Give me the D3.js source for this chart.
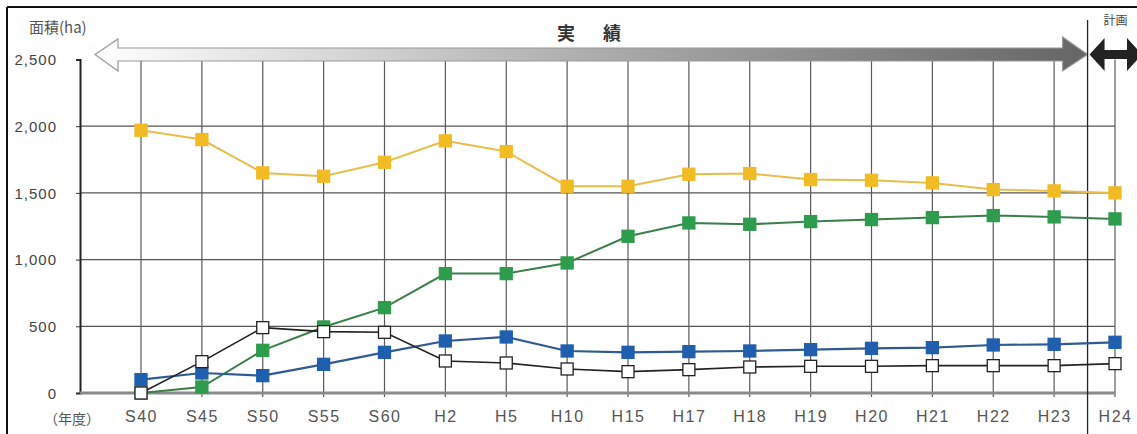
<!DOCTYPE html>
<html>
<head>
<meta charset="utf-8">
<script src="https://cdn.jsdelivr.net/npm/d3@7"></script>
<style>
  html, body { margin: 0; padding: 0; background: #fff; }
  svg { display: block; }
</style>
</head>
<body>
<svg id="chart" width="1137" height="434"></svg>
<script>
// Fiscal years (Showa / Heisei)
const years = ["S40","S45","S50","S55","S60","H2","H5","H10","H15","H17","H18","H19","H20","H21","H22","H23","H24"];

// Area (ha) per series
const seriesYellow = [1970,1900,1650,1625,1730,1890,1810,1550,1550,1640,1645,1600,1595,1575,1525,1515,1500];
const seriesGreen  = [0,45,320,495,640,895,895,975,1175,1275,1265,1285,1300,1315,1330,1320,1305];
const seriesBlue   = [100,150,130,215,305,390,420,315,305,310,315,325,335,340,360,365,380];
const seriesWhite  = [0,235,490,460,455,240,225,180,160,175,195,200,200,205,205,205,220];

const yTicks = [0,500,1000,1500,2000,2500];

const svg = d3.select("#chart");
const W = 1137, H = 434;

const plotLeft = 80, plotRight = 1115;
const x = d3.scalePoint().domain(years).range([141, plotRight]);
const y = d3.scaleLinear().domain([0, 2500]).range([393, 59.5]);

const numFont = "'Liberation Sans', Arial, sans-serif";
const jpFont = "'Noto Sans CJK JP', 'Noto Sans', sans-serif";

// outer frame (top and left edges)
svg.append("line").attr("x1",7).attr("x2",W).attr("y1",7).attr("y2",7)
  .attr("stroke","#111").attr("stroke-width",2);
svg.append("line").attr("x1",7).attr("x2",7).attr("y1",7).attr("y2",H)
  .attr("stroke","#111").attr("stroke-width",2);

// horizontal grid
svg.append("g").selectAll("line").data(yTicks.filter(d => d > 0 && d < 2500)).join("line")
  .attr("x1", plotLeft).attr("x2", plotRight)
  .attr("y1", d => y(d)).attr("y2", d => y(d))
  .attr("stroke","#555").attr("stroke-width",1.2);

// vertical grid
svg.append("g").selectAll("line").data(years).join("line")
  .attr("x1", d => x(d)).attr("x2", d => x(d))
  .attr("y1", y(2500)).attr("y2", y(0) + 4)
  .attr("stroke","#5a5a5a").attr("stroke-width",1.2);

// y axis
const yAxis = d3.axisLeft(y).tickValues(yTicks).tickSize(4).tickFormat(d3.format(","));
const gy = svg.append("g").attr("transform", `translate(${plotLeft},0)`).call(yAxis);
gy.select(".domain").attr("stroke","#222").attr("stroke-width",2);
gy.selectAll(".tick line").attr("stroke","#333");
gy.selectAll(".tick text")
  .attr("x", -23).attr("dy","0.35em")
  .attr("fill","#444").style("font-family", numFont).style("font-size","15px")
  .style("letter-spacing","1px");

// x axis
const xAxis = d3.axisBottom(x).tickSize(0).tickPadding(18);
const gx = svg.append("g").attr("transform", `translate(0,${y(0)})`).call(xAxis);
gx.select(".domain").remove();
gx.selectAll(".tick text")
  .attr("fill","#555").style("font-family", numFont).style("font-size","16px")
  .style("letter-spacing","1.5px");
svg.append("line").attr("x1", plotLeft).attr("x2", plotRight)
  .attr("y1", y(0)).attr("y2", y(0)).attr("stroke","#8a8a8a").attr("stroke-width",3);

// axis titles
svg.append("text").attr("x",29).attr("y",33).text("面積(ha)")
  .attr("fill","#555").style("font-family", jpFont).style("font-size","15px");
svg.append("text").attr("x",44).attr("y",424).text("（年度）")
  .attr("fill","#555").style("font-family", jpFont).style("font-size","14px");

// period arrow ("実績")
const defs = svg.append("defs");
const grad = defs.append("linearGradient").attr("id","periodGrad")
  .attr("gradientUnits","userSpaceOnUse")
  .attr("x1",95).attr("x2",1088).attr("y1",0).attr("y2",0);
grad.append("stop").attr("offset","0%").attr("stop-color","#ffffff");
grad.append("stop").attr("offset","45%").attr("stop-color","#b4b4b4");
grad.append("stop").attr("offset","100%").attr("stop-color","#656565");

const splitX = (x("H23") + x("H24")) / 2 + 3;
const ay = 54.5;
const arrowPath = d3.path();
arrowPath.moveTo(95, ay);
arrowPath.lineTo(118, 39);
arrowPath.lineTo(118, 48);
arrowPath.lineTo(splitX - 25, 48);
arrowPath.lineTo(splitX - 25, 37);
arrowPath.lineTo(splitX, ay);
arrowPath.lineTo(splitX - 25, 71);
arrowPath.lineTo(splitX - 25, 61);
arrowPath.lineTo(118, 61);
arrowPath.lineTo(118, 71);
arrowPath.closePath();
svg.append("path").attr("d", arrowPath.toString())
  .attr("fill","url(#periodGrad)").attr("stroke","#9a9a9a").attr("stroke-width",1.2);

svg.append("text").attr("x",557).attr("y",40).text("実　績")
  .attr("fill","#333").style("font-family", jpFont).style("font-size","18px")
  .style("font-weight","bold").style("letter-spacing","5px");

// plan boundary and plan arrow ("計画")
svg.append("line").attr("x1", splitX).attr("x2", splitX).attr("y1", 20).attr("y2", H)
  .attr("stroke","#222").attr("stroke-width",1.3);

const planPath = d3.path();
planPath.moveTo(splitX + 2, ay);
planPath.lineTo(splitX + 17, 38);
planPath.lineTo(splitX + 17, 50);
planPath.lineTo(W - 10, 50);
planPath.lineTo(W - 10, 38);
planPath.lineTo(W + 5, ay);
planPath.lineTo(W - 10, 71);
planPath.lineTo(W - 10, 59);
planPath.lineTo(splitX + 17, 59);
planPath.lineTo(splitX + 17, 71);
planPath.closePath();
svg.append("path").attr("d", planPath.toString()).attr("fill","#222");

svg.append("text").attr("x", splitX + 16).attr("y", 25).text("計画")
  .attr("fill","#444").style("font-family", jpFont).style("font-size","12px");

// series
const series = [
  { values: seriesYellow, line: "#e8bd4c", fill: "#f1bb23", stroke: "#f1bb23", lw: 2 },
  { values: seriesGreen,  line: "#3b7e4c", fill: "#2d9c4c", stroke: "#2d9c4c", lw: 2 },
  { values: seriesBlue,   line: "#2f5a92", fill: "#1f5fae", stroke: "#1f5fae", lw: 2.2 },
  { values: seriesWhite,  line: "#222222", fill: "#ffffff", stroke: "#222222", lw: 1.6 }
];

const lineGen = d3.line().x((d, i) => x(years[i])).y(d => y(d));
const ms = 12;

series.forEach(s => {
  const g = svg.append("g");
  g.append("path").datum(s.values).attr("d", lineGen)
    .attr("fill","none").attr("stroke", s.line).attr("stroke-width", s.lw);
  g.selectAll("rect").data(s.values).join("rect")
    .attr("x", (d, i) => x(years[i]) - ms / 2)
    .attr("y", d => y(d) - ms / 2)
    .attr("width", ms).attr("height", ms)
    .attr("fill", s.fill).attr("stroke", s.stroke).attr("stroke-width", 1.3);
});
</script>
</body>
</html>
